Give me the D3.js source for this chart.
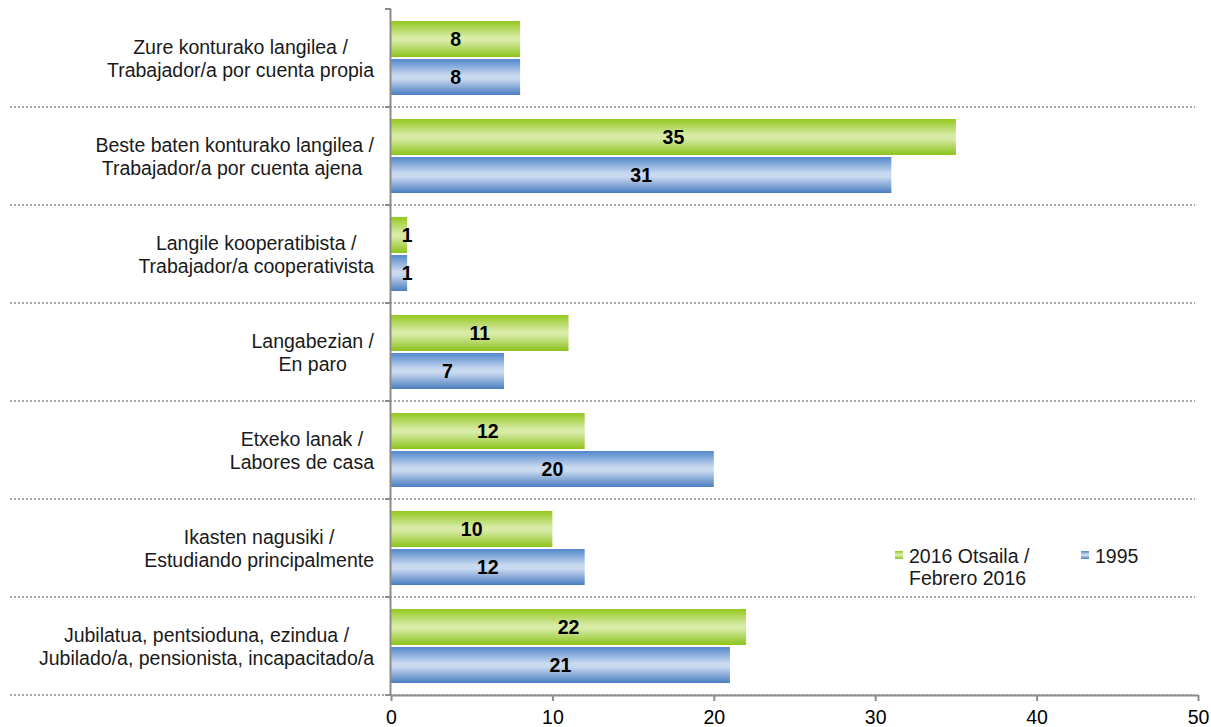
<!DOCTYPE html>
<html><head><meta charset="utf-8">
<script src="https://cdn.jsdelivr.net/npm/d3@7"></script>
<style>body{margin:0;background:#fff;}svg{display:block;font-family:"Liberation Sans",Arial,sans-serif;}</style>
</head><body>
<svg id="c" width="1211" height="727"></svg>
<script>
const categories = [
  ["Zure konturako langilea /", "Trabajador/a por cuenta propia"],
  ["Beste baten konturako langilea /", "Trabajador/a por cuenta ajena "],
  ["Langile kooperatibista /", "Trabajador/a cooperativista"],
  ["Langabezian /", "En paro"],
  ["Etxeko lanak /", "Labores de casa"],
  ["Ikasten nagusiki /", "Estudiando principalmente"],
  ["Jubilatua, pentsioduna, ezindua /", "Jubilado/a, pensionista, incapacitado/a"]
];
const series2016 = [8, 35, 1, 11, 12, 10, 22];
const series1995 = [8, 31, 1, 7, 20, 12, 21];
const seriesNames = [["2016 Otsaila /", "Febrero 2016"], ["1995"]];
const xTicks = [0, 10, 20, 30, 40, 50];

const FS = 19.5;
const svg = d3.select("#c");
const x = d3.scaleLinear().domain([0, 50]).range([391, 1198]);
const y = d3.scaleBand().domain(d3.range(categories.length)).range([9, 695]);
const inner = d3.scaleBand().domain([0, 1]).range([12, 98 - 12]).paddingInner(4 / 74);

const defs = svg.append("defs");
function grad(id, dark, light, dark2) {
  const g = defs.append("linearGradient").attr("id", id).attr("x1", 0).attr("x2", 0).attr("y1", 0).attr("y2", 1);
  g.append("stop").attr("offset", "0%").attr("stop-color", dark);
  g.append("stop").attr("offset", "45%").attr("stop-color", light);
  g.append("stop").attr("offset", "55%").attr("stop-color", light);
  g.append("stop").attr("offset", "100%").attr("stop-color", dark2);
}
grad("gGreen", "#93c81e", "#d7eba6", "#8cc21a");
grad("gBlue", "#5287cc", "#c9d9f0", "#4a7dbf");

// dotted separators
const bounds = d3.range(1, categories.length + 1).map(i => y.range()[0] + i * y.step());
svg.append("g").selectAll("line").data(bounds).join("line")
  .attr("x1", 10).attr("x2", 1195).attr("y1", d => d).attr("y2", d => d)
  .attr("stroke", "#a6a6a6").attr("stroke-width", 2).attr("stroke-dasharray", "2,2");

// bars
const seriesData = [series2016, series1995];
const fills = ["url(#gGreen)", "url(#gBlue)"];
seriesData.forEach((vals, s) => {
  const g = svg.append("g");
  g.selectAll("rect").data(vals).join("rect")
    .attr("x", x(0)).attr("y", (d, i) => y(i) + inner(s))
    .attr("width", d => x(d) - x(0)).attr("height", inner.bandwidth())
    .attr("fill", fills[s]);
  g.selectAll("text").data(vals).join("text")
    .attr("x", d => x(d / 2) + (d < 2 ? 8 : 0))
    .attr("y", (d, i) => y(i) + inner(s) + inner.bandwidth() / 2)
    .attr("dy", "0.36em").attr("text-anchor", "middle")
    .attr("font-size", FS).attr("font-weight", "bold").attr("fill", "#000")
    .text(d => d);
});

// vertical axis
const ax = svg.append("g").attr("stroke", "#8c8c8c").attr("stroke-width", 2);
ax.append("line").attr("x1", 390.5).attr("x2", 390.5).attr("y1", 9).attr("y2", 696);
ax.selectAll("line.t").data([9].concat(bounds)).join("line").attr("class", "t")
  .attr("x1", 385).attr("x2", 391).attr("y1", d => d).attr("y2", d => d);

// bottom axis
const xa = svg.append("g").attr("transform", "translate(0,695)")
  .call(d3.axisBottom(x).tickValues(xTicks).tickSize(6).tickPadding(9).tickSizeOuter(0));
xa.select(".domain").attr("stroke", "#8c8c8c").attr("stroke-width", 2);
xa.selectAll(".tick line").attr("stroke", "#8c8c8c").attr("stroke-width", 2);
xa.selectAll(".tick text").attr("font-size", FS).attr("fill", "#000")
  .attr("font-family", '"Liberation Sans",Arial,sans-serif');

// category labels
const lab = svg.append("g");
categories.forEach((lines, i) => {
  const cy = y(i) + y.bandwidth() / 2;
  const t = lab.append("g");
  const texts = lines.map((ln, k) => t.append("text")
    .attr("y", cy + (k - (lines.length - 1) / 2) * 23).attr("dy", "0.36em")
    .attr("font-size", FS).attr("fill", "#1a1a1a").attr("text-anchor", "middle")
    .style("white-space", "pre").text(ln));
  const w = d3.max(texts, tt => tt.node().getComputedTextLength());
  texts.forEach(tt => tt.attr("x", 374 - w / 2));
});

// legend
const leg = svg.append("g");
const legX = [895, 1081];
seriesNames.forEach((names, s) => {
  leg.append("rect").attr("x", legX[s]).attr("y", 551).attr("width", 8).attr("height", 8).attr("fill", fills[s]);
  names.forEach((n, k) => leg.append("text").attr("x", legX[s] + 14).attr("y", 555.5 + k * 22)
    .attr("dy", "0.36em").attr("font-size", FS).attr("fill", "#1a1a1a").text(n));
});
</script>
</body></html>
